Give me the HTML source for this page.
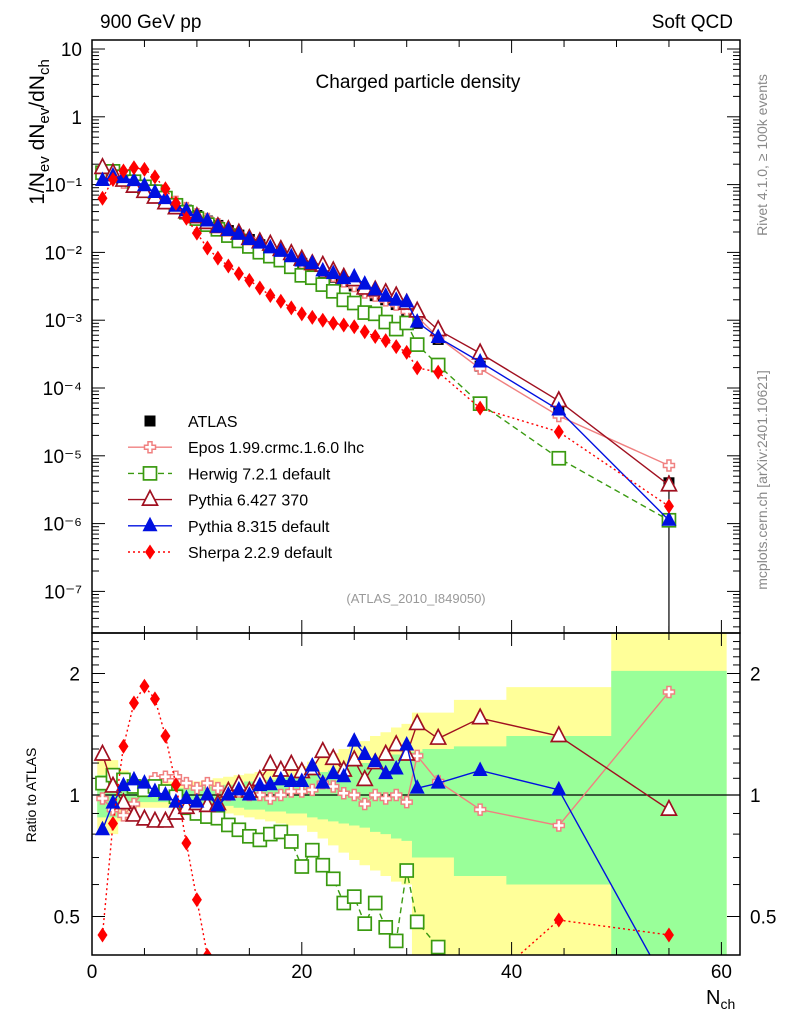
<!DOCTYPE html>
<html><head><meta charset="utf-8"><style>
html,body{margin:0;padding:0;background:#fff;width:786px;height:1024px;overflow:hidden}
svg{display:block;font-family:"Liberation Sans",sans-serif}
</style></head><body>
<svg id="c" width="786" height="1024" viewBox="0 0 786 1024">
<defs>
<clipPath id="cm"><rect x="92" y="40" width="648" height="593"/></clipPath>
<clipPath id="cr"><rect x="92" y="633" width="648" height="322"/></clipPath>
</defs>
<g id="bands" clip-path="url(#cr)"></g>
<g id="grid"></g>
<g id="series"></g>
<rect x="92" y="40" width="648" height="593" fill="none" stroke="#000" stroke-width="1.5"/>
<rect x="92" y="633" width="648" height="322" fill="none" stroke="#000" stroke-width="1.5"/>
<text x="100" y="28" font-size="19">900 GeV pp</text>
<text x="733" y="28" font-size="19" text-anchor="end">Soft QCD</text>
<text x="418" y="88" font-size="19" text-anchor="middle">Charged particle density</text>
<text x="416" y="603" font-size="13" fill="#999" text-anchor="middle">(ATLAS_2010_I849050)</text>
<text transform="translate(767,155) rotate(-90)" font-size="14" fill="#888" text-anchor="middle">Rivet 4.1.0, ≥ 100k events</text>
<text transform="translate(767,480) rotate(-90)" font-size="14" fill="#888" text-anchor="middle">mcplots.cern.ch [arXiv:2401.10621]</text>
<text transform="translate(44,132) rotate(-90)" font-size="21" text-anchor="middle">1/N<tspan font-size="15" dy="5">ev</tspan><tspan dy="-5"> dN</tspan><tspan font-size="15" dy="5">ev</tspan><tspan dy="-5">/dN</tspan><tspan font-size="15" dy="5">ch</tspan></text>
<text transform="translate(36,795) rotate(-90)" font-size="14" text-anchor="middle">Ratio to ATLAS</text>
<text x="706" y="1004" font-size="20">N<tspan font-size="14" dy="5">ch</tspan></text>
<g id="legend"></g>
</svg>
<script>
const nch = [1,2,3,4,5,6,7,8,9,10,11,12,13,14,15,16,17,18,19,20,21,22,23,24,25,26,27,28,29,30,31,33,37,44.5,55];
const binLo = [0.5,1.5,2.5,3.5,4.5,5.5,6.5,7.5,8.5,9.5,10.5,11.5,12.5,13.5,14.5,15.5,16.5,17.5,18.5,19.5,20.5,21.5,22.5,23.5,24.5,25.5,26.5,27.5,28.5,29.5,30.5,31.5,34.5,39.5,49.5];
const binHi = [1.5,2.5,3.5,4.5,5.5,6.5,7.5,8.5,9.5,10.5,11.5,12.5,13.5,14.5,15.5,16.5,17.5,18.5,19.5,20.5,21.5,22.5,23.5,24.5,25.5,26.5,27.5,28.5,29.5,30.5,31.5,34.5,39.5,49.5,60.5];
const atlas = [0.14,0.14,0.12,0.105,0.09,0.075,0.062,0.05,0.042,0.035,0.029,0.025,0.021,0.018,0.0155,0.013,0.011,0.0095,0.008,0.0069,0.0058,0.005,0.0043,0.0037,0.0032,0.0027,0.0023,0.002,0.0017,0.0014,0.0009,0.00052,0.00021,0.000046,0.000004];
const rEpos = [0.98,0.92,0.89,0.95,1.03,1.1,1.11,1.11,1.07,1.04,1.07,1.04,1.0,1.02,1.0,1.0,0.98,1.0,1.02,1.02,1.03,1.07,1.05,1.01,1.0,0.95,1.0,0.98,1.0,0.96,1.25,1.08,0.92,0.84,1.8];
const rHerwig = [1.07,1.12,1.09,1.05,1.03,1.05,1.02,0.99,0.93,0.9,0.884,0.876,0.843,0.82,0.79,0.774,0.8,0.81,0.767,0.665,0.73,0.67,0.62,0.54,0.56,0.48,0.54,0.47,0.435,0.65,0.485,0.42,0.28,0.2,0.28];
const rPy6 = [1.26,1.05,0.955,0.89,0.87,0.86,0.86,0.9,0.93,0.95,0.94,0.95,1.02,1.06,1.02,1.09,1.19,1.15,1.19,1.14,1.16,1.28,1.23,1.15,1.22,1.09,1.2,1.26,1.33,1.26,1.5,1.38,1.55,1.4,0.92];
const rPy8 = [0.82,0.955,1.055,1.09,1.07,1.02,1.0,0.96,0.98,0.96,1.0,0.94,1.0,1.03,1.0,1.055,1.06,1.09,1.08,1.08,1.18,1.07,1.13,1.11,1.36,1.26,1.21,1.13,1.16,1.33,1.04,1.07,1.15,1.03,0.28];
const rSherpa = [0.45,0.85,1.32,1.69,1.86,1.73,1.4,1.06,0.76,0.55,0.4,0.33,0.3,0.27,0.25,0.23,0.21,0.2,0.19,0.18,0.19,0.2,0.21,0.23,0.25,0.25,0.25,0.25,0.24,0.24,0.22,0.33,0.24,0.49,0.45];
const inUp = [1.12,1.12,1.08,1.04,1.04,1.04,1.04,1.04,1.04,1.04,1.05,1.05,1.06,1.07,1.08,1.09,1.09,1.1,1.11,1.11,1.13,1.14,1.15,1.17,1.18,1.2,1.22,1.24,1.26,1.28,1.28,1.3,1.32,1.4,2.03];
const inLo = [0.88,0.88,0.92,0.96,0.96,0.96,0.96,0.96,0.96,0.96,0.95,0.95,0.94,0.93,0.92,0.92,0.91,0.91,0.9,0.9,0.88,0.87,0.86,0.85,0.84,0.83,0.81,0.8,0.78,0.77,0.7,0.7,0.63,0.6,0.3];
const outUp = [1.22,1.22,1.15,1.08,1.08,1.08,1.08,1.08,1.08,1.08,1.09,1.1,1.11,1.12,1.13,1.14,1.15,1.16,1.17,1.18,1.21,1.24,1.27,1.3,1.33,1.36,1.4,1.43,1.47,1.5,1.6,1.6,1.72,1.85,2.6];
const outLo = [0.8,0.8,0.86,0.93,0.93,0.93,0.93,0.93,0.93,0.93,0.92,0.91,0.9,0.89,0.88,0.87,0.86,0.85,0.84,0.84,0.81,0.78,0.75,0.72,0.69,0.67,0.65,0.63,0.61,0.6,0.3,0.3,0.3,0.3,0.3];
const xTicks = [0,20,40,60];
const mainTicks = ["10\u207B\u2077","10\u207B\u2076","10\u207B\u2075","10\u207B\u2074","10\u207B\u00B3","10\u207B\u00B2","10\u207B\u00B9","1","10"];
const ratioTicks = [0.5,1,2];

const NS="http://www.w3.org/2000/svg";
const X=n=>92+n*10.49;
const YM=v=>49+(1-Math.log10(v))*67.8;
const YR=r=>795-Math.log2(Math.max(0.33,Math.min(2.6,r)))*121.5;
function mk(t,a,p){const e=document.createElementNS(NS,t);for(const k in a)e.setAttribute(k,a[k]);p.appendChild(e);return e;}
const grid=document.getElementById('grid'),bands=document.getElementById('bands'),ser=document.getElementById('series'),leg=document.getElementById('legend');

function band(up,lo,col,nm){let d='';
 for(let i=0;i<nch.length;i++){d+=`M${X(binLo[i])},${YR(up[i])}H${X(binHi[i])}V${YR(lo[i])}H${X(binLo[i])}Z`;}
 const p=mk('path',{d:d,fill:col},bands);
 
 }
band(outUp,outLo,'#ffff99','outer-band');
band(inUp,inLo,'#99ff99','inner-band');
const ul=mk('line',{x1:92,x2:740,y1:YR(1),y2:YR(1),stroke:'#000','stroke-width':1.2},bands);



for(let n=0;n<=61;n+=5){const maj=n%20==0,L=maj?13:7;
 for(const [yb,yt] of [[633,40],[955,633]]){
  mk('line',{x1:X(n),x2:X(n),y1:yb,y2:yb-L,stroke:'#000'},grid);
  mk('line',{x1:X(n),x2:X(n),y1:yt,y2:yt+L,stroke:'#000'},grid);}
}
xTicks.forEach(n=>{const t=mk('text',{x:X(n),y:978,'font-size':19,'text-anchor':'middle'},grid);t.textContent=n;
 
 });
for(let e=-8;e<=1;e++){for(let m=1;m<10;m++){const v=m*Math.pow(10,e);const y=YM(v);if(y<40||y>633)continue;const L=m==1?13:7;
 mk('line',{x1:92,x2:92+L,y1:y,y2:y,stroke:'#000'},grid);mk('line',{x1:740,x2:740-L,y1:y,y2:y,stroke:'#000'},grid);}}
mainTicks.forEach((s,i)=>{const t=mk('text',{x:82,y:YM(Math.pow(10,i-7))+7,'font-size':19,'text-anchor':'end'},grid);t.textContent=s;
 
 });
for(let r=0.4;r<=2.5;r+=0.1){const y=795-Math.log2(r)*121.5;if(y<633||y>955)continue;const maj=Math.abs(r-0.5)<1e-6||Math.abs(r-1)<1e-6||Math.abs(r-2)<1e-6;const L=maj?13:7;
 mk('line',{x1:92,x2:92+L,y1:y,y2:y,stroke:'#000'},grid);mk('line',{x1:740,x2:740-L,y1:y,y2:y,stroke:'#000'},grid);}
ratioTicks.forEach(r=>{for(const [x,a] of [[80,'end'],[750,'start']]){const t=mk('text',{x:x,y:YR(r)+7,'font-size':19,'text-anchor':a},grid);t.textContent=r;
 
 }});

function marker(g,type,x,y,col){
 if(type=='sq')mk('rect',{x:x-5.5,y:y-5.5,width:11,height:11,fill:col},g);
 else if(type=='osq')mk('rect',{x:x-6.5,y:y-6.5,width:13,height:13,fill:'#fff',stroke:col,'stroke-width':1.7},g);
 else if(type=='otri')mk('path',{d:`M${x},${y-9}L${x+7.5},${y+5.5}L${x-7.5},${y+5.5}Z`,fill:'#fff',stroke:col,'stroke-width':1.7},g);
 else if(type=='tri')mk('path',{d:`M${x},${y-9}L${x+7.5},${y+5.5}L${x-7.5},${y+5.5}Z`,fill:col},g);
 else if(type=='dia')mk('path',{d:`M${x},${y-7.5}L${x+5},${y}L${x},${y+7.5}L${x-5},${y}Z`,fill:col},g);
 else if(type=='cross')mk('path',{d:`M${x-2},${y-5.5}h4v3.5h3.5v4h-3.5v3.5h-4v-3.5h-3.5v-4h3.5Z`,fill:'#fff',stroke:col,'stroke-width':1.5},g);
}
const models=[
 {nm:'epos',lab:'Epos 1.99.crmc.1.6.0 lhc',r:rEpos,col:'#f08080',m:'cross',dash:''},
 {nm:'herwig',lab:'Herwig 7.2.1 default',r:rHerwig,col:'#3a9a10',m:'osq',dash:'6,4'},
 {nm:'pythia6',lab:'Pythia 6.427 370',r:rPy6,col:'#a01020',m:'otri',dash:''},
 {nm:'pythia8',lab:'Pythia 8.315 default',r:rPy8,col:'#0010e0',m:'tri',dash:''},
 {nm:'sherpa',lab:'Sherpa 2.2.9 default',r:rSherpa,col:'#ff0000',m:'dia',dash:'2,3'}];

const ga=mk('g',{'clip-path':'url(#cm)'},ser);


mk('line',{x1:X(55),x2:X(55),y1:YM(atlas[34]*1.3),y2:640,stroke:'#000','stroke-width':1.2},ga);
nch.forEach((n,i)=>marker(ga,'sq',X(n),YM(atlas[i]),'#000'));

models.forEach(md=>{
 for(const panel of ['main','ratio']){
  const g=mk('g',{'clip-path':panel=='main'?'url(#cm)':'url(#cr)'},ser);
  
  
  const pts=nch.map((n,i)=>[X(n),panel=='main'?YM(atlas[i]*md.r[i]):YR(md.r[i])]);
  mk('polyline',{points:pts.map(p=>p.join(',')).join(' '),fill:'none',stroke:md.col,'stroke-width':1.4,'stroke-dasharray':md.dash},g);
  pts.forEach(p=>marker(g,md.m,p[0],p[1],md.col));
 }
});

const items=[{lab:'ATLAS',m:'sq',col:'#000',dash:null}].concat(models.map(m=>({lab:m.lab,m:m.m,col:m.col,dash:m.dash})));
items.forEach((it,i)=>{const y=421+i*26.2;
 const g=mk('g',{},leg);
 
 
 if(it.dash!==null)mk('line',{x1:128,x2:172,y1:y,y2:y,stroke:it.col,'stroke-width':1.4,'stroke-dasharray':it.dash},g);
 marker(g,it.m,150,y,it.col);
 const t=mk('text',{x:188,y:y+6,'font-size':16},g);t.textContent=it.lab;});
</script>
</body></html>
